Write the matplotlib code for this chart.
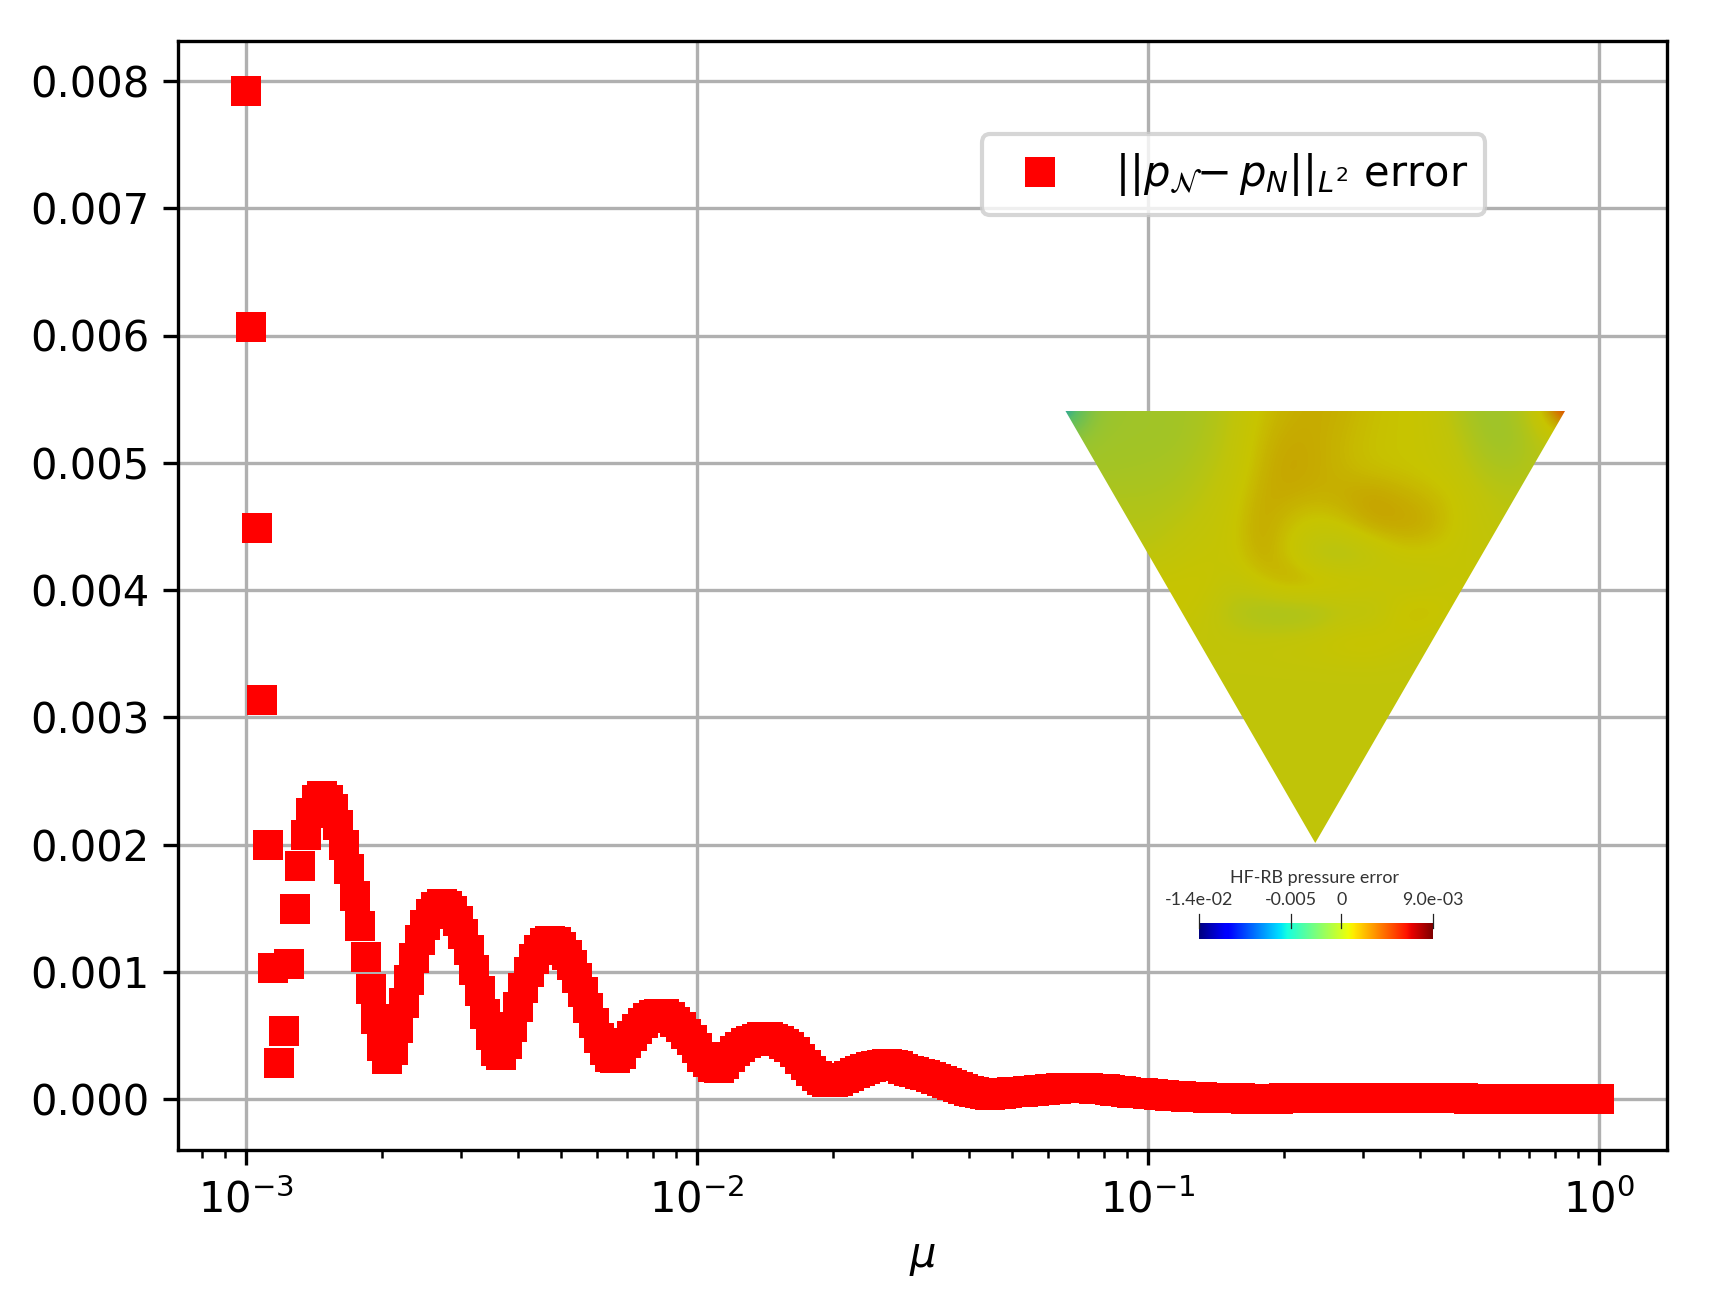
import numpy as np
import matplotlib
matplotlib.use("Agg")
import matplotlib.pyplot as plt
from matplotlib.colors import LinearSegmentedColormap
from matplotlib.patches import Polygon

# parameter grid of the sweep (250 log-spaced samples from 1e-3 to 1)
mu = np.logspace(-3, 0, 250)

# error values, in units of 1e-3
error_e3 = [
    7.918, 6.07, 4.49, 3.14, 2.00, 1.034, 0.285, 0.54, 1.063, 1.495,
    1.833, 2.08, 2.25, 2.35, 2.38, 2.35, 2.28, 2.155, 2.00, 1.807,
    1.595, 1.362, 1.118, 0.869, 0.628, 0.419, 0.314, 0.39, 0.563, 0.757,
    0.94, 1.108, 1.254, 1.37, 1.458, 1.513, 1.537, 1.516, 1.479, 1.40,
    1.296, 1.17, 1.016, 0.848, 0.673, 0.505, 0.38, 0.346, 0.432, 0.57,
    0.725, 0.875, 0.998, 1.10, 1.176, 1.225, 1.246, 1.236, 1.20, 1.134,
    1.053, 0.956, 0.84, 0.72, 0.602, 0.484, 0.388, 0.33, 0.322, 0.356,
    0.44, 0.50, 0.55, 0.60, 0.635, 0.66, 0.673, 0.67, 0.65, 0.607,
    0.568, 0.516, 0.466, 0.40, 0.332, 0.293, 0.255, 0.246, 0.28, 0.33,
    0.377, 0.41, 0.44, 0.46, 0.476, 0.49, 0.49, 0.476, 0.458, 0.437,
    0.41, 0.37, 0.32, 0.27, 0.225, 0.185, 0.155, 0.136, 0.136, 0.141,
    0.168, 0.185, 0.205, 0.225, 0.24, 0.255, 0.265, 0.272, 0.275, 0.27,
    0.26, 0.24, 0.225, 0.212, 0.20, 0.19, 0.175, 0.162, 0.147, 0.131,
    0.113, 0.094, 0.079, 0.063, 0.055, 0.048, 0.04, 0.037, 0.038, 0.04,
    0.05, 0.055, 0.058, 0.06, 0.065, 0.069, 0.073, 0.076, 0.08, 0.083,
    0.086, 0.087, 0.087, 0.087, 0.086, 0.085, 0.084, 0.082, 0.08, 0.074,
    0.068, 0.063, 0.058, 0.053, 0.049, 0.046, 0.043, 0.039, 0.035, 0.031,
    0.028, 0.026, 0.023, 0.021, 0.019, 0.017, 0.015, 0.013, 0.012, 0.01,
    0.009, 0.008, 0.007, 0.007, 0.006, 0.006, 0.006, 0.006, 0.006, 0.006,
    0.006, 0.007, 0.007, 0.007, 0.008, 0.008, 0.008, 0.008, 0.009, 0.009,
    0.009, 0.01, 0.01, 0.01, 0.01, 0.01, 0.01, 0.01, 0.01, 0.01,
    0.01, 0.01, 0.01, 0.01, 0.01, 0.01, 0.01, 0.01, 0.01, 0.01,
    0.009, 0.009, 0.008, 0.008, 0.007, 0.006, 0.006, 0.005, 0.005, 0.004,
    0.004, 0.003, 0.003, 0.002, 0.002, 0.002, 0.001, 0.001, 0.001, 0.001,
    0.001, 0.002, 0.002, 0.003, 0.003, 0.003, 0.003, 0.004, 0.004, 0.004,
]
series_label = r"$||p_{\mathcal{N}}\hspace{-0.25}-p_N||_{L^2}$ error"
y_ticks = [0.000, 0.001, 0.002, 0.003, 0.004, 0.005, 0.006, 0.007, 0.008]

# inset pressure-error field, read by eye on a coarse grid (top row = flat side)
field = [
    [-5.0, -1.3, -0.9, -0.85, -0.8, -0.6, -0.1, 0.55, 0.85, 0.95, 0.85, 0.6, 0.5, 0.4, -0.3, -1.0, -0.8, 0.3, 3.0],
    [-1.3, -0.9, -0.85, -0.85, -0.8, -0.5, 0.0, 0.7, 1.0, 0.95, 0.75, 0.55, 0.5, 0.4, 0.0, -0.8, -1.0, -0.2, 0.0],
    [-0.8, -0.8, -0.75, -0.7, -0.6, -0.3, 0.1, 0.8, 1.1, 0.95, 0.75, 0.55, 0.5, 0.4, 0.2, -0.4, -0.6, -0.3, -0.3],
    [-0.5, -0.5, -0.5, -0.5, -0.4, -0.1, 0.3, 0.95, 0.95, 0.85, 0.95, 1.15, 0.95, 0.75, 0.5, 0.0, -0.2, -0.2, -0.2],
    [-0.3, -0.3, -0.3, -0.3, -0.1, 0.1, 0.4, 1.05, 0.6, 0.3, 0.55, 1.05, 1.1, 1.0, 0.5, 0.1, -0.1, -0.1, -0.1],
    [-0.1, -0.1, -0.1, -0.1, 0.1, 0.3, 0.35, 1.0, 0.5, -0.4, -0.6, -0.2, 0.35, 0.4, 0.3, 0.2, 0.2, 0.2, 0.2],
    [0.4, 0.4, 0.4, 0.4, 0.45, 0.5, 0.05, 0.5, 1.1, 1.0, 0.75, 0.55, 0.1, 0.05, 0.4, 0.2, 0.2, 0.2, 0.2],
    [0.5, 0.5, 0.5, 0.5, 0.5, 0.2, -0.4, -0.8, -0.95, -0.8, -0.3, -0.3, 0.6, 0.8, 0.3, 0.3, 0.3, 0.3, 0.3],
    [0.1, 0.1, 0.1, 0.1, 0.1, 0.15, 0.15, 0.2, 0.3, 0.4, 0.65, 0.7, 0.4, 0.15, 0.1, 0.1, 0.1, 0.1, 0.1],
    [0.05] * 19,
    [0.05] * 19,
    [0.05] * 19,
    [0.05] * 19,
    [0.05] * 19,
    [0.05] * 19,
    [0.05] * 19,
]
field_levels = [-5, -3, -1, 0, 0.5, 1, 2, 3]
field_colors = ["#008cd2", "#5abe64", "#9bc52d", "#c0c40a", "#c8c400", "#c6a800", "#dc5a00", "#c81e00"]

cbar_title = "HF-RB pressure error"
cbar_range = [-0.014, 0.009]
cbar_tick_values = [-0.014, -0.005, 0.0, 0.009]
cbar_tick_labels = ["-1.4e-02", "-0.005", "0", "9.0e-03"]

W, H = 1710, 1312
fig = plt.figure(figsize=(W / 300, H / 300), dpi=300)
ax = fig.add_axes([178.3 / W, 1 - 1150 / H, (1666.7 - 178.3) / W, (1150 - 41) / H])

ax.plot(mu, np.array(error_e3) * 1e-3, "s", color="red", markersize=7,
        markeredgewidth=0, label=series_label, zorder=3)
ax.set_xscale("log")
ax.set_yticks(y_ticks)
ax.set_xlim(10 ** (-3 - (246 - 178.3) / 451), 10 ** ((1666.7 - 1599) / 451))
ax.set_ylim(-(1150 - 1099.3) / 127.3e3, (1099.3 - 41) / 127.3e3)
ax.set_xlabel(r"$\mu$", labelpad=3.5)
ax.grid(True, which="major")
ax.set_axisbelow(True)
ax.legend(loc="upper left",
          bbox_to_anchor=((982 - 178.3) / (1666.7 - 178.3), 1 - (134.5 - 41) / (1150 - 41)),
          borderaxespad=0)

# overlay axes in pixel coordinates for the pasted field picture
ov = fig.add_axes([0, 0, 1, 1], zorder=5)
ov.patch.set_alpha(0)
ov.axis("off")
ov.set_xlim(0, W)
ov.set_ylim(H, 0)
ov.set_autoscale_on(False)

lo, hi = field_levels[0], field_levels[-1]
cmap = LinearSegmentedColormap.from_list(
    "field", [((v - lo) / (hi - lo), c) for v, c in zip(field_levels, field_colors)])
tx0, tx1, ty0, ty1 = 1065.5, 1565.0, 411.0, 843.0
arr = np.array(field)
cx = (tx1 - tx0) / 18
cy = (ty1 - ty0) / 15
im = ov.imshow(arr, cmap=cmap, vmin=lo, vmax=hi, interpolation="bicubic", aspect="auto",
               extent=[tx0 - cx / 2, tx0 + cx * (arr.shape[1] - 0.5),
                       ty0 + cy * (arr.shape[0] - 0.5), ty0 - cy / 2])

# colour bar of the field picture
bx0, bx1, by0, by1 = 1199, 1433, 923, 939
ov.imshow(np.linspace(0, 1, 256)[None, :], cmap="jet", aspect="auto", extent=[bx0, bx1, by1, by0])
for v, lab in zip(cbar_tick_values, cbar_tick_labels):
    tx = bx0 + (bx1 - bx0) * (v - cbar_range[0]) / (cbar_range[1] - cbar_range[0])
    ov.plot([tx, tx], [914, 928], color="#222222", lw=0.3)
    ov.text(tx, 900, lab, ha="center", va="center", fontsize=4.3, family="Lato", color="#333333")
ov.text(1315, 878, cbar_title, ha="center", va="center", fontsize=4.3, family="Lato", color="#333333")
ov.set_xlim(0, W)
ov.set_ylim(H, 0)

tri = Polygon([(tx0, ty0), (tx1, ty0), ((tx0 + tx1) / 2, ty1)], closed=True,
              transform=ov.transData, facecolor="none", edgecolor="none")
ov.add_patch(tri)
im.set_clip_path(tri)

fig.savefig("out.png", dpi=300)
